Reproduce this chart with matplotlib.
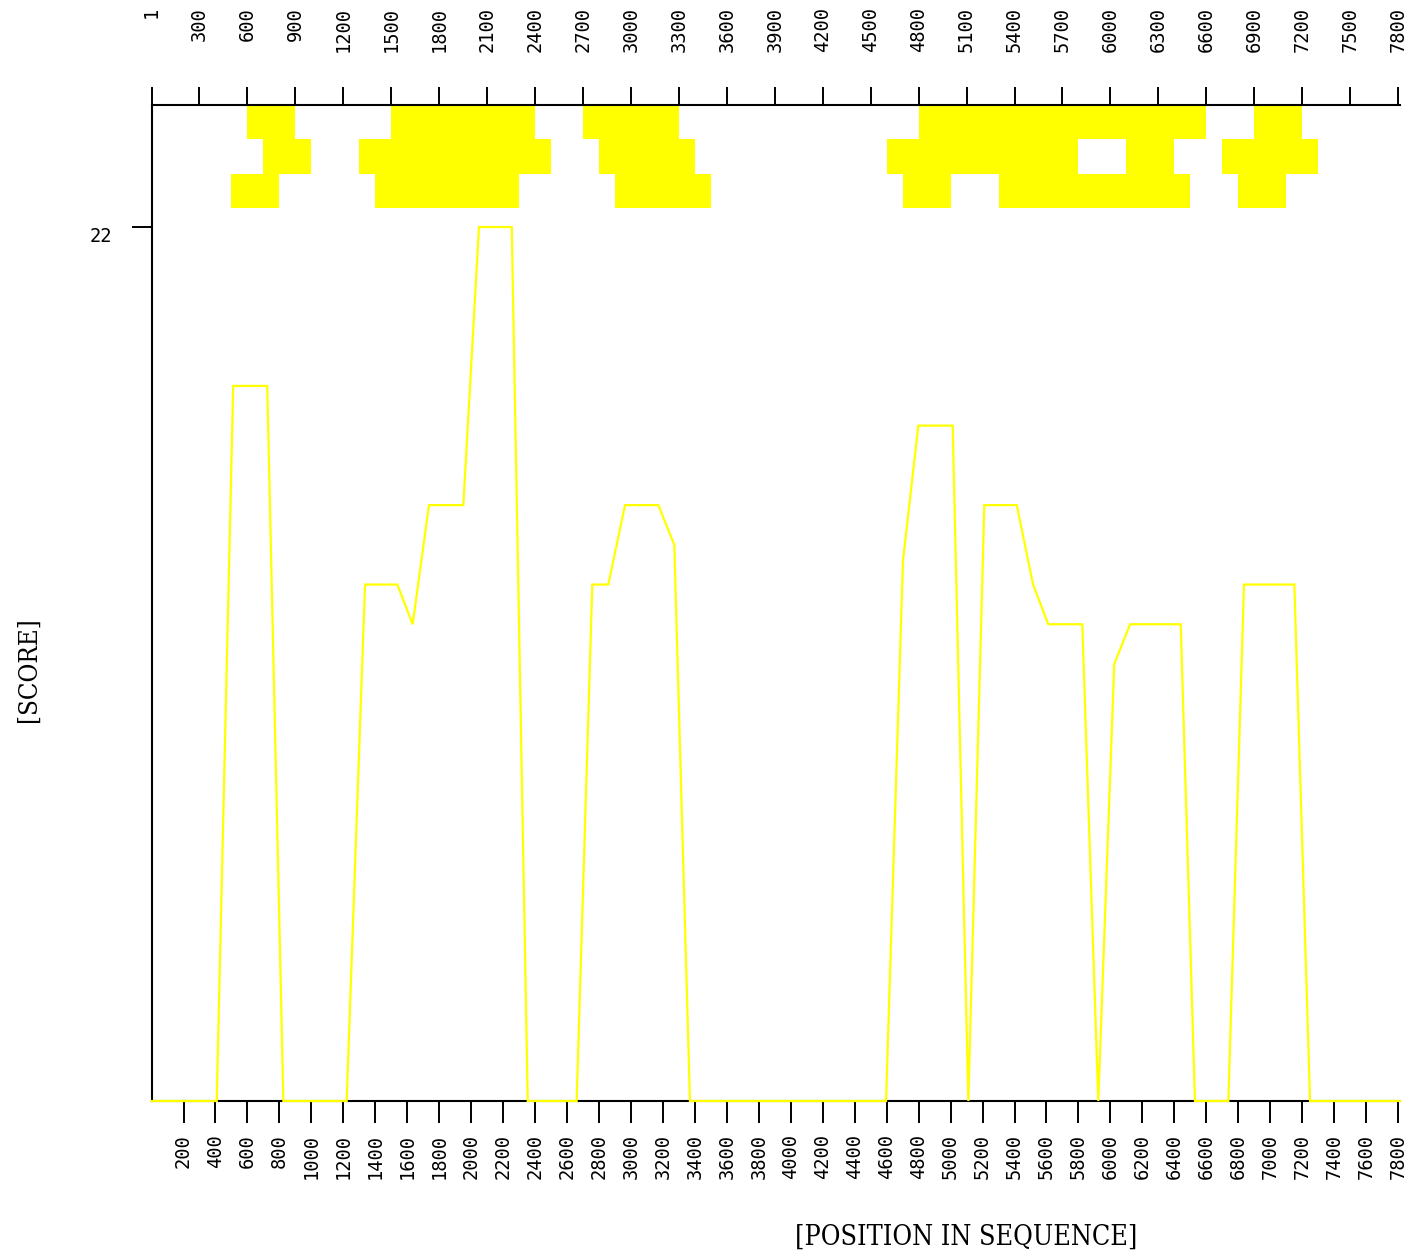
import matplotlib
matplotlib.use('Agg')
import matplotlib.pyplot as plt

# ---- data ----
positions = [1, 408, 511, 724, 825, 1221, 1336, 1538, 1634, 1736,
             1951, 2049, 2254, 2354, 2660, 2758, 2858, 2963, 3171, 3271,
             3369, 4596, 4702, 4798, 5013, 5111, 5211, 5414, 5516, 5611,
             5824, 5924, 6024, 6123, 6440, 6529, 6738, 6836, 7151, 7249, 7812]
scores = [0, 0, 18, 18, 0, 0, 13, 13, 12, 15,
          15, 22, 22, 0, 0, 13, 13, 15, 15, 14,
          0, 0, 13.6, 17, 17, 0, 15, 15, 13, 12,
          12, 0, 11, 12, 12, 0, 0, 13, 13, 0, 0]

row1_start = [600, 1500, 2700, 4800, 6900]
row1_end = [900, 2400, 3300, 6600, 7200]
row2_start = [700, 1300, 2800, 4600, 6100, 6700]
row2_end = [1000, 2500, 3400, 5800, 6400, 7300]
row3_start = [500, 1400, 2900, 4700, 5300, 6800]
row3_end = [800, 2300, 3500, 5000, 6500, 7100]

top_ticks = [1] + list(range(300, 7801, 300))
bottom_ticks = list(range(200, 7801, 200))
score_ticks = [22]
x_label = '[POSITION IN SEQUENCE]'
y_label = '[SCORE]'

# ---- figure ----
W, H = 1416, 1259
YEL = '#ffff00'
MONO = 'DejaVu Sans Mono'
fig = plt.figure(figsize=(W / 100, H / 100), dpi=100)
fig.patch.set_facecolor('white')

ax_l, ax_r, ax_b, ax_t = 151.7, 1400.0, 1101.0, 105.0
ax = fig.add_axes([ax_l / W, (H - ax_b) / H, (ax_r - ax_l) / W, (ax_b - ax_t) / H])
ax.set_facecolor('white')

ax.plot(positions, scores, color=YEL, lw=1.6, zorder=4, clip_on=False,
        solid_joinstyle='miter')

rows = [(row1_start, row1_end), (row2_start, row2_end), (row3_start, row3_end)]
h = 34.3 / (ax_b - ax_t)
for i, (st, en) in enumerate(rows):
    for s, e in zip(st, en):
        ax.axvspan(s, e, ymin=1 - (i + 1) * h, ymax=1 - i * h,
                   color=YEL, lw=0, zorder=1)

ax.set_xlim(1, 7812)
ax.set_ylim(0, 22 * (ax_b - ax_t) / (ax_b - 227.0))

ax.spines['right'].set_visible(False)
for sp in ['left', 'bottom', 'top']:
    ax.spines[sp].set_linewidth(1.5)
    ax.spines[sp].set_color('black')

ax.set_xticks(bottom_ticks)
ax.set_xticklabels([str(t) for t in bottom_ticks], rotation=90,
                   family=MONO, fontsize=13.5)
ax.tick_params(axis='x', direction='out', length=15.5, width=1.4, pad=8.5)
ax.set_yticks(score_ticks)
ax.set_yticklabels([str(t) for t in score_ticks], family=MONO, fontsize=13.5,
                   va='top')
ax.tick_params(axis='y', direction='out', length=14.5, width=1.4, pad=14)

ax_top = ax.twiny()
ax_top.set_xlim(ax.get_xlim())
for sp in ['left', 'right', 'bottom', 'top']:
    ax_top.spines[sp].set_visible(False)
ax_top.set_xticks(top_ticks)
ax_top.set_xticklabels([str(t) for t in top_ticks], rotation=90,
                       family=MONO, fontsize=13.5, va='top')
ax_top.tick_params(axis='x', direction='out', length=12.7, width=1.4, pad=58)

ax.set_xlabel(x_label, family='DejaVu Serif', fontstretch='condensed',
              fontsize=19.3, va='center')
ax.xaxis.set_label_coords((966 - ax_l) / (ax_r - ax_l), (ax_b - 1237) / (ax_b - ax_t))
ax.set_ylabel(y_label, family='DejaVu Serif', fontstretch='condensed',
              fontsize=18.5, va='center')
ax.yaxis.set_label_coords((28 - ax_l) / (ax_r - ax_l), (ax_b - 670) / (ax_b - ax_t))

fig.savefig('out.png', dpi=100, facecolor='white')
